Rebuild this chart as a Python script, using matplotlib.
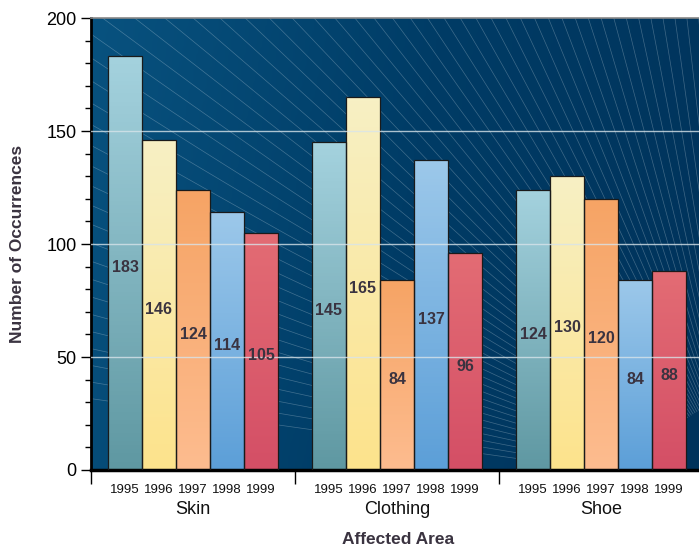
import numpy as np
import matplotlib
matplotlib.use("Agg")
import matplotlib.pyplot as plt
from matplotlib.colors import LinearSegmentedColormap

# data
areas = ["Skin", "Clothing", "Shoe"]
years = ["1995", "1996", "1997", "1998", "1999"]
skin = [183, 146, 124, 114, 105]
clothing = [145, 165, 84, 137, 96]
shoe = [124, 130, 120, 84, 88]
values = [skin, clothing, shoe]

# top / bottom colour of each year's bar
bar_cols = {
    "1995": ("#a4d2de", "#5f98a2"),
    "1996": ("#f7f0c4", "#fde38c"),
    "1997": ("#f6a465", "#fdbc8f"),
    "1998": ("#9cc8ea", "#5c9fd8"),
    "1999": ("#e36c74", "#d44f66"),
}

txt_col = "#3a3340"
arial = ["Liberation Sans", "DejaVu Sans"]

fig = plt.figure(figsize=(6.99, 5.46), dpi=100)
ax = fig.add_axes([91 / 699, 76 / 546, 608 / 699, 452 / 546])

n = len(years)
gw = n + 1

# background gradient
bg = LinearSegmentedColormap.from_list("bg", ["#08527f", "#003c66", "#00335b"])
grad = np.linspace(0, 1, 256).reshape(1, -1)
grad = grad + np.linspace(0, 0.15, 64).reshape(-1, 1)
ax.imshow(grad, cmap=bg, extent=(0, 1, 0, 1), transform=ax.transAxes,
          aspect="auto", zorder=0, vmin=0, vmax=1.15)

# faint fan of lines (decoration), worked out in pixel space of the axes
W, H = 608.0, 452.0
cx, cy = 650.0, -20.0
for ang in np.linspace(88, 172, 60):
    a = np.deg2rad(ang)
    r0, r1 = 90, 1200
    xs = np.array([cx + r0 * np.cos(a), cx + r1 * np.cos(a)]) / W
    ys = np.array([cy + r0 * np.sin(a), cy + r1 * np.sin(a)]) / H
    ax.plot(xs, ys, transform=ax.transAxes, color="white", lw=0.5,
            alpha=0.25, zorder=0.5)

# bars
for g, vals in enumerate(values):
    for i, v in enumerate(vals):
        x = g * gw + 0.5 + i
        top, bot = bar_cols[years[i]]
        cm = LinearSegmentedColormap.from_list("c", [bot, top])
        b = ax.bar(x, v, width=1.0, align="edge", color="none",
                   edgecolor="#1a1a1a", lw=0.9, zorder=3)[0]
        im = ax.imshow(np.linspace(0, 1, 100).reshape(-1, 1), cmap=cm,
                       origin="lower", extent=(x, x + 1, 0, v),
                       aspect="auto", zorder=2)
        im.set_clip_path(b)
        ax.text(x + 0.5, v / 2 - 2, str(v), ha="center", va="center",
                fontsize=11.5, fontweight="bold", color=txt_col,
                family=arial, zorder=5)

# grid lines
for yv in [50, 100, 150]:
    ax.axhline(yv, color="#d8e4ea", lw=1.0, alpha=0.8, zorder=4)

ax.set_xlim(0, 608 / 34)
ax.set_ylim(0, 200)

# axes styling
ax.spines["right"].set_visible(False)
ax.spines["top"].set_color("#888888")
ax.spines["top"].set_linewidth(1.2)
ax.spines["left"].set_linewidth(2)
ax.spines["bottom"].set_linewidth(2.5)

ax.set_yticks([0, 50, 100, 150, 200])
ax.set_yticks(np.arange(0, 201, 10), minor=True)
ax.tick_params(axis="y", which="major", length=7, width=1, labelsize=13)
ax.tick_params(axis="y", which="minor", length=4, width=1)
for lab in ax.get_yticklabels():
    lab.set_family(arial)

ax.set_xticks([g * gw for g in range(len(areas))])
ax.set_xticklabels([])
ax.tick_params(axis="x", which="major", length=10, width=1)

xt = ax.get_xaxis_transform()
for g, a in enumerate(areas):
    for i, y in enumerate(years):
        ax.annotate(y, (g * gw + 1 + i, 0), xycoords=xt, xytext=(0, -14.5),
                    textcoords="offset points", ha="center", va="center",
                    fontsize=9.5, family=arial, color="#111111")
    ax.annotate(a, (g * gw + 3, 0), xycoords=xt, xytext=(0, -28.5),
                textcoords="offset points", ha="center", va="center",
                fontsize=13, family=arial, color="#111111")

fig.text(398 / 699, 1 - 539 / 546, "Affected Area", ha="center", va="center",
         fontsize=12.5, fontweight="bold", color=txt_col, family=arial)
fig.text(18 / 699, 1 - 244 / 546, "Number of Occurrences", ha="center",
         va="center", rotation=90, fontsize=12.5, fontweight="bold",
         color=txt_col, family=arial)

fig.savefig("out.png", dpi=100)
